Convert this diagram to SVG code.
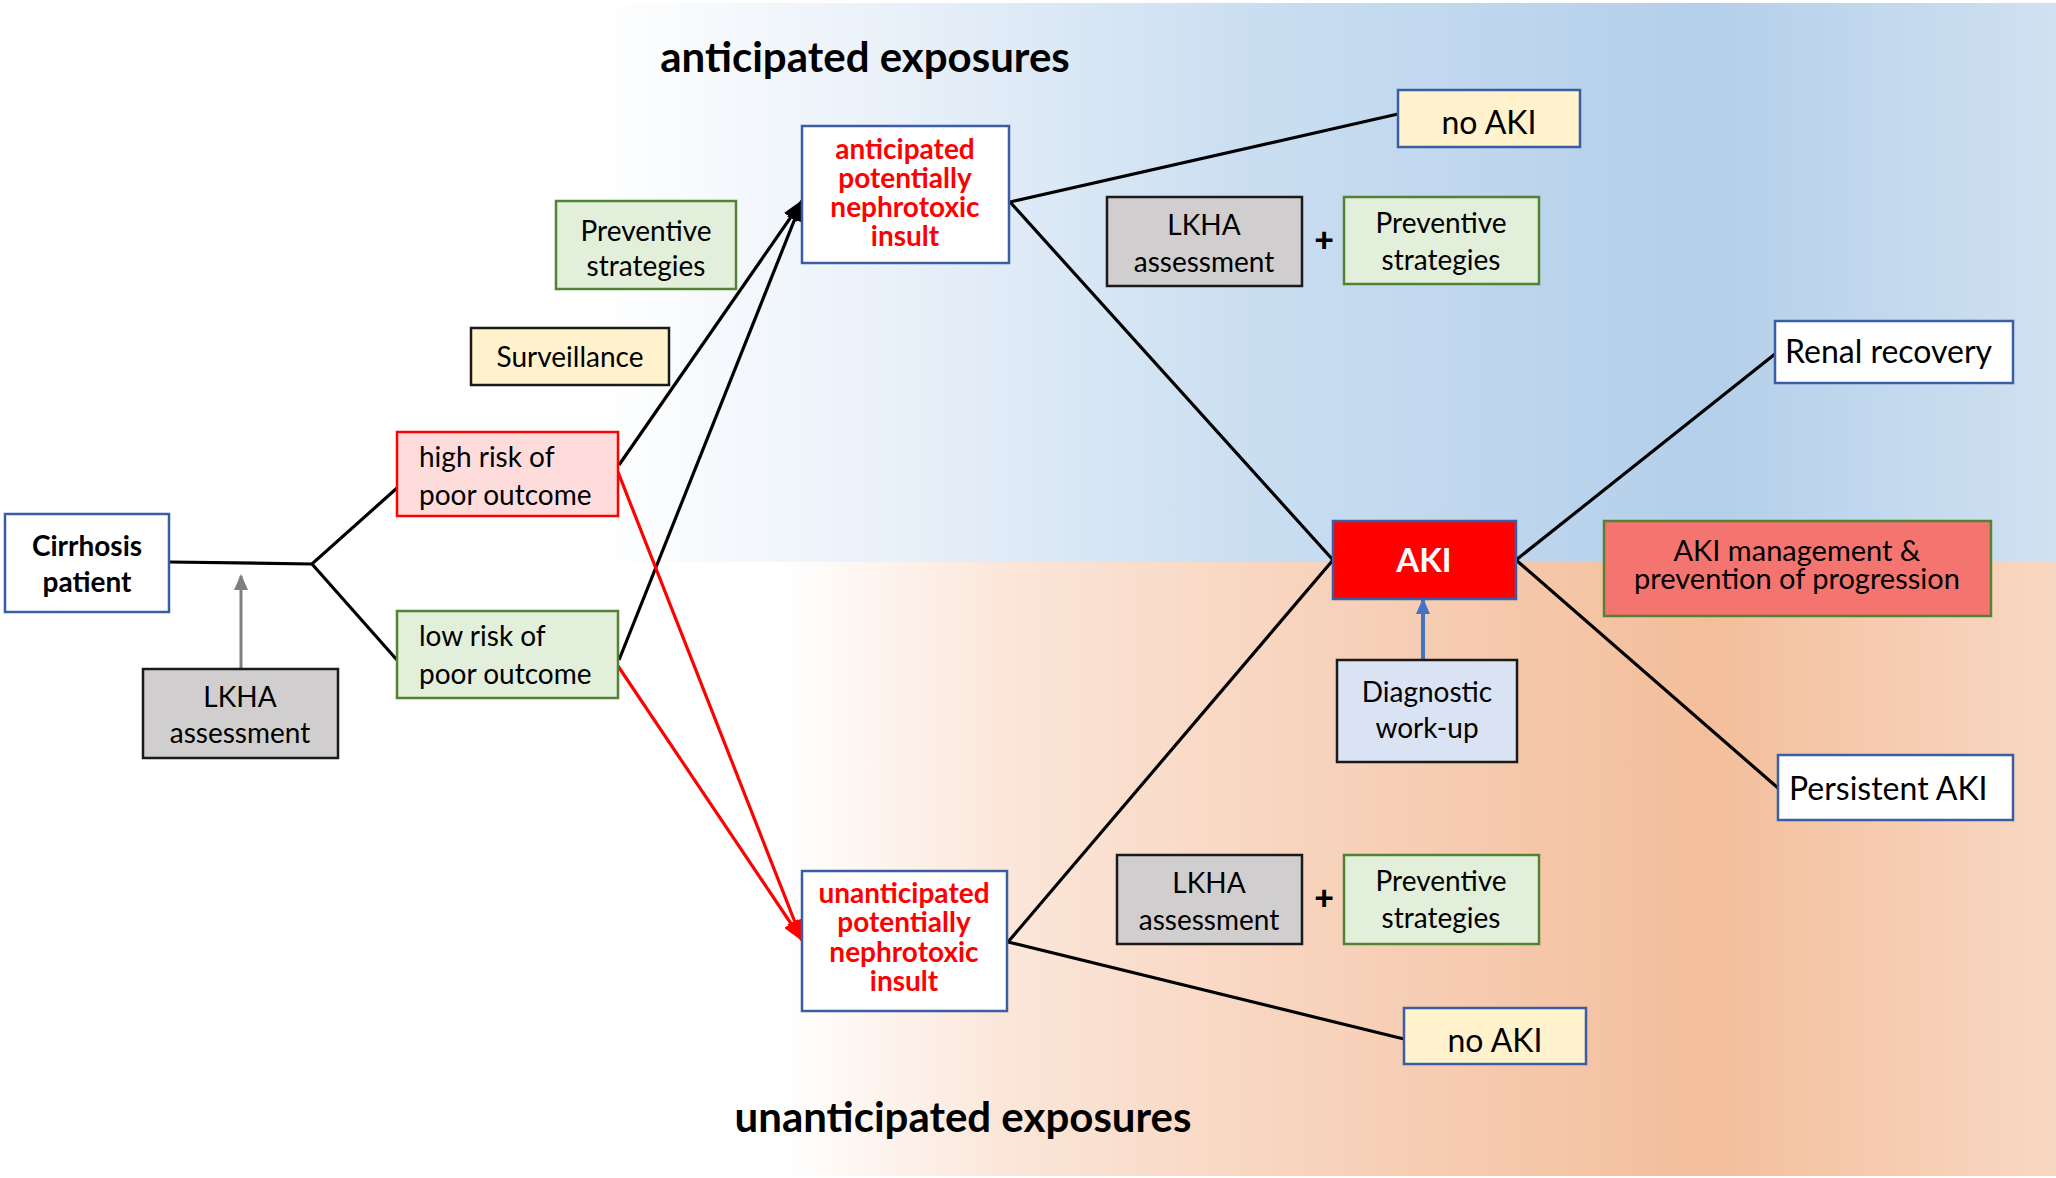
<svg xmlns="http://www.w3.org/2000/svg" width="2056" height="1178" viewBox="0 0 2056 1178">
  <defs>
    <linearGradient id="bgBlue" gradientUnits="userSpaceOnUse" x1="0" y1="0" x2="2056" y2="0">
      <stop offset="0.29" stop-color="#ffffff"/>
      <stop offset="0.44" stop-color="#e8f0f9"/>
      <stop offset="0.61" stop-color="#cadef1"/>
      <stop offset="0.83" stop-color="#b4cfea"/>
      <stop offset="1" stop-color="#d0e1f1"/>
    </linearGradient>
    <linearGradient id="bgPeach" gradientUnits="userSpaceOnUse" x1="0" y1="0" x2="2056" y2="0">
      <stop offset="0.38" stop-color="#ffffff"/>
      <stop offset="0.49" stop-color="#fbe6d9"/>
      <stop offset="0.63" stop-color="#f8d4be"/>
      <stop offset="0.83" stop-color="#f3be9b"/>
      <stop offset="1" stop-color="#f9d8c3"/>
    </linearGradient>
    <marker id="arrowBlack" markerUnits="userSpaceOnUse" markerWidth="22" markerHeight="16" refX="20" refY="8" orient="auto">
      <path d="M0,0 L22,8 L0,16 z" fill="#000"/>
    </marker>
    <marker id="arrowRed" markerUnits="userSpaceOnUse" markerWidth="22" markerHeight="16" refX="20" refY="8" orient="auto">
      <path d="M0,0 L22,8 L0,16 z" fill="#ff0000"/>
    </marker>
    <marker id="arrowGray" markerUnits="userSpaceOnUse" markerWidth="16" markerHeight="14" refX="14" refY="7" orient="auto">
      <path d="M0,0 L16,7 L0,14 z" fill="#7f7f7f"/>
    </marker>
    <marker id="arrowBlue" markerUnits="userSpaceOnUse" markerWidth="16" markerHeight="14" refX="14" refY="7" orient="auto">
      <path d="M0,0 L16,7 L0,14 z" fill="#4472c4"/>
    </marker>
  </defs>
  <style>
    text { font-family: Lato, "Open Sans", "Liberation Sans", sans-serif; fill: #000; }
    .t { font-size: 28px; }
    .c { text-anchor: middle; }
    .big { font-size: 32px; }
    .ttl { font-size: 42px; font-weight: bold; }
    .ins { font-size: 28px; font-weight: bold; fill: #ff0000; text-anchor: middle; }
    .b { stroke-width: 2.5; }
    .blueB { stroke: #3a5da4; }
    .greenB { stroke: #548235; }
    .blackB { stroke: #1a1a1a; }
    .redB { stroke: #ff0000; }
    .white { fill: #ffffff; }
    .green { fill: #e2efda; }
    .yellow { fill: #fff2cc; }
    .gray { fill: #d0cece; }
    .pink { fill: #ffdcdc; }
    .lblue { fill: #dae3f3; }
    .conn { fill: none; stroke: #000; stroke-width: 3.2; }
    .red { fill: none; stroke: #ff0000; stroke-width: 3.2; }
    .plus { font-size: 34px; font-weight: 900; text-anchor: middle; }
  </style>

  <!-- background bands -->
  <rect x="0" y="0" width="2056" height="1178" fill="#ffffff"/>
  <rect x="0" y="3" width="2056" height="559" fill="url(#bgBlue)"/>
  <rect x="0" y="562" width="2056" height="614" fill="url(#bgPeach)"/>

  <!-- band titles -->
  <text class="ttl c" x="865" y="72">anticipated exposures</text>
  <text class="ttl c" x="963" y="1132">unanticipated exposures</text>

  <!-- connectors -->
  <g id="connectors">
    <polyline class="conn" points="169,562 312,564 397,488"/>
    <polyline class="conn" points="312,564 397,660"/>
    <line x1="241" y1="669" x2="241" y2="576" stroke="#7f7f7f" stroke-width="3" marker-end="url(#arrowGray)"/>
    <line class="conn" x1="619" y1="465" x2="802" y2="201" marker-end="url(#arrowBlack)"/>
    <line class="conn" x1="619" y1="660" x2="802" y2="201" marker-end="url(#arrowBlack)"/>
    <line class="red" x1="618" y1="472" x2="802" y2="940" marker-end="url(#arrowRed)"/>
    <line class="red" x1="618" y1="666" x2="802" y2="940" marker-end="url(#arrowRed)"/>
    <line class="conn" x1="1010" y1="202" x2="1398" y2="114"/>
    <line class="conn" x1="1010" y1="202" x2="1333" y2="560"/>
    <line class="conn" x1="1008" y1="942" x2="1333" y2="560"/>
    <line class="conn" x1="1008" y1="942" x2="1404" y2="1039"/>
    <line class="conn" x1="1516" y1="560" x2="1775" y2="354"/>
    <line class="conn" x1="1516" y1="560" x2="1778" y2="788"/>
    <line x1="1423" y1="660" x2="1423" y2="600" stroke="#4472c4" stroke-width="4" marker-end="url(#arrowBlue)"/>
  </g>

  <!-- nodes -->
  <g id="cirrhosis">
    <rect class="white b blueB" x="5" y="514" width="164" height="98"/>
    <text class="t c" x="87" y="556" font-weight="bold">Cirrhosis</text>
    <text class="t c" x="87" y="592" font-weight="bold">patient</text>
  </g>
  <g id="lkha-left">
    <rect class="gray b blackB" x="143" y="669" width="195" height="89"/>
    <text class="t c" x="240" y="707">LKHA</text>
    <text class="t c" x="240" y="743">assessment</text>
  </g>
  <g id="high-risk">
    <rect class="pink b redB" x="397" y="432" width="221" height="84"/>
    <text class="t" x="419" y="467">high risk of</text>
    <text class="t" x="419" y="505">poor outcome</text>
  </g>
  <g id="low-risk">
    <rect class="green b greenB" x="397" y="611" width="221" height="87"/>
    <text class="t" x="419" y="646">low risk of</text>
    <text class="t" x="419" y="684">poor outcome</text>
  </g>
  <g id="preventive-left">
    <rect class="green b greenB" x="556" y="201" width="180" height="88"/>
    <text class="t c" x="646" y="241">Preventive</text>
    <text class="t c" x="646" y="276">strategies</text>
  </g>
  <g id="surveillance">
    <rect class="yellow b blackB" x="471" y="328" width="198" height="57"/>
    <text class="t c" x="570" y="367">Surveillance</text>
  </g>
  <g id="anticipated-insult">
    <rect class="white b blueB" x="802" y="126" width="207" height="137"/>
    <text class="ins" x="905" y="159">anticipated</text>
    <text class="ins" x="905" y="188">potentially</text>
    <text class="ins" x="905" y="217">nephrotoxic</text>
    <text class="ins" x="905" y="246">insult</text>
  </g>
  <g id="unanticipated-insult">
    <rect class="white b blueB" x="802" y="871" width="205" height="140"/>
    <text class="ins" x="904" y="903">unanticipated</text>
    <text class="ins" x="904" y="932">potentially</text>
    <text class="ins" x="904" y="962">nephrotoxic</text>
    <text class="ins" x="904" y="991">insult</text>
  </g>
  <g id="no-aki-top">
    <rect class="yellow b blueB" x="1398" y="90" width="182" height="57"/>
    <text class="big c" x="1489" y="134">no AKI</text>
  </g>
  <g id="lkha-top">
    <rect class="gray b blackB" x="1107" y="197" width="195" height="89"/>
    <text class="t c" x="1204" y="235">LKHA</text>
    <text class="t c" x="1204" y="272">assessment</text>
  </g>
  <g id="plus-top">
    <text class="plus" x="1324" y="252">+</text>
  </g>
  <g id="preventive-top">
    <rect class="green b greenB" x="1344" y="197" width="195" height="87"/>
    <text class="t c" x="1441" y="233">Preventive</text>
    <text class="t c" x="1441" y="270">strategies</text>
  </g>
  <g id="aki">
    <rect x="1333" y="521" width="183" height="78" fill="#ff0000" stroke="#3a5da4" stroke-width="2.5"/>
    <text class="c" x="1424" y="572" font-size="33" font-weight="bold" style="fill:#ffffff">AKI</text>
  </g>
  <g id="renal-recovery">
    <rect class="white b blueB" x="1775" y="321" width="238" height="62"/>
    <text class="big" x="1785" y="363">Renal recovery</text>
  </g>
  <g id="aki-management">
    <rect class="b greenB" x="1604" y="521" width="387" height="95" fill="#f47470"/>
    <text class="c" x="1797" y="561" font-size="29">AKI management &amp;</text>
    <text class="c" x="1797" y="589" font-size="29">prevention of progression</text>
  </g>
  <g id="persistent-aki">
    <rect class="white b blueB" x="1778" y="755" width="235" height="65"/>
    <text class="big" x="1789" y="800">Persistent AKI</text>
  </g>
  <g id="diagnostic">
    <rect class="lblue b blackB" x="1337" y="660" width="180" height="102"/>
    <text class="t c" x="1427" y="702">Diagnostic</text>
    <text class="t c" x="1427" y="738">work-up</text>
  </g>
  <g id="lkha-bottom">
    <rect class="gray b blackB" x="1117" y="855" width="185" height="89"/>
    <text class="t c" x="1209" y="893">LKHA</text>
    <text class="t c" x="1209" y="930">assessment</text>
  </g>
  <g id="plus-bottom">
    <text class="plus" x="1324" y="910">+</text>
  </g>
  <g id="preventive-bottom">
    <rect class="green b greenB" x="1344" y="855" width="195" height="89"/>
    <text class="t c" x="1441" y="891">Preventive</text>
    <text class="t c" x="1441" y="928">strategies</text>
  </g>
  <g id="no-aki-bottom">
    <rect class="yellow b blueB" x="1404" y="1008" width="182" height="56"/>
    <text class="big c" x="1495" y="1052">no AKI</text>
  </g>
</svg>
